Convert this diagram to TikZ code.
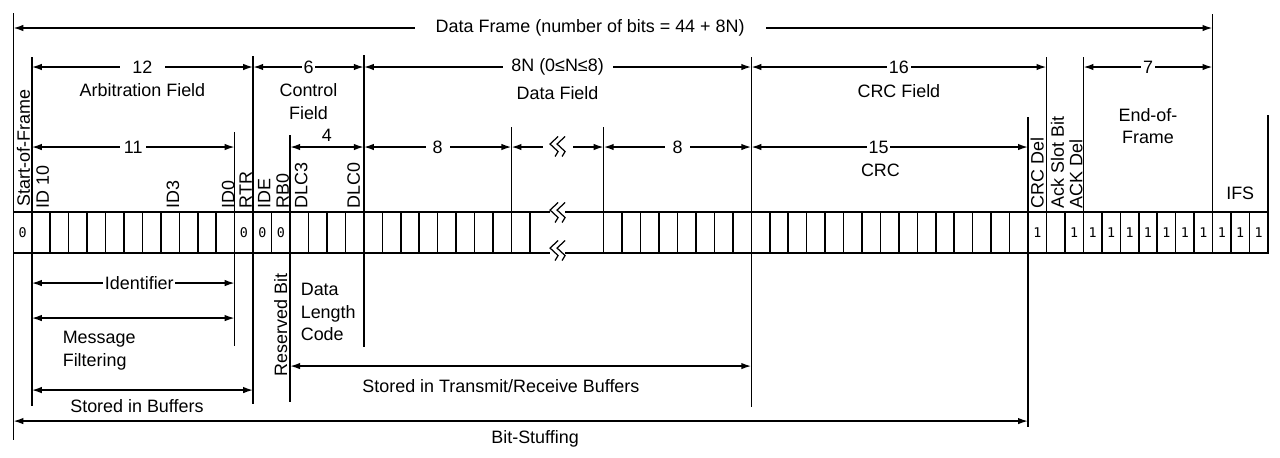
\documentclass[tikz,border=0pt]{standalone}
\usepackage{fontspec}
\setmainfont{Liberation Sans}
\newfontfamily\bitfont{DejaVu Sans Mono}
\usepackage{tikz}
\usetikzlibrary{calc,shapes,positioning}
\usetikzlibrary{arrows}
\usetikzlibrary{arrows.meta}
\tikzset{>={Latex[width=1.3mm,length=2mm]}}

% break mark drawn over a white node
\newcommand{\brkmark}[1]{%
  \foreach \s in {-0.07cm,0.07cm}
    \draw[line width=0.7pt] ([xshift=\s]#1.center) ++(0.08cm,0.21cm) -- ++(-0.16cm,-0.15cm) -- ++(0.16cm,-0.15cm) -- ++(-0.06cm,-0.1cm);}

\begin{document}
\begin{tikzpicture}[x=0.369cm, y=-0.02cm, line width=0.9pt]
          \tikzstyle{lbl} = [fill=white, inner xsep=2pt, inner ysep=0pt, font=\fontsize{10.2}{12}\selectfont]
          \tikzstyle{txt} = [align=center, inner sep=0pt, font=\fontsize{10.2}{13}\selectfont]
          \tikzstyle{vtxt} = [rotate=90, anchor=west, inner sep=0pt, font=\fontsize{10.2}{12}\selectfont]
          \tikzstyle{bit} = [inner sep=0pt, font=\bitfont\fontsize{7.6}{8}\selectfont]
          \tikzstyle{brk} = [fill=white, inner sep=0pt, minimum height=0.42cm, minimum width=0.3cm]

          \useasboundingbox (-0.721,0) rectangle (68.656,457);

          % field boundaries and arrow levels
          \foreach \i in {0,1,12,13,15,19,27,32,40,55,56,58,65,68}
            \coordinate (b\i) at (\i,0);
          \coordinate (lv1) at (0,28);
          \coordinate (lv2) at (0,67);
          \coordinate (lv3) at (0,147);
          \coordinate (lvid) at (0,283);
          \coordinate (lvmf) at (0,318);
          \coordinate (lvtr) at (0,366);
          \coordinate (lvsb) at (0,390);
          \coordinate (lvbs) at (0,421);

          \foreach \i/\ya/\yb in {0/13/440, 1/57/406, 12/132/346, 13/56/404, 15/135/402, 19/55/347,
                                 27/127/212, 32/127/212, 40/57/407, 55/117/427, 56/57/212,
                                 58/57/212, 65/14/212, 68/115/212}
            \draw (\i,\ya) -- (\i,\yb);

          % bit row
          \draw (0,212) rectangle (68,253);
          \foreach \i in {1,...,28}
            \draw (\i,212) -- (\i,253);
          \foreach \i in {32,...,67}
            \draw (\i,212) -- (\i,253);

          \foreach \i in {0,12,13,14}
            \node[bit] (z\i) at (\i+0.5,232.5) {0};
          \foreach \i in {55,57,58,...,67}
            \node[bit] (o\i) at (\i+0.5,232.5) {1};

          % dimension arrows above
          \draw[<->] (b0 |- lv1) -- node[lbl, pos=.481, inner xsep=12pt] {Data Frame (number of bits = 44 + 8N)} (b65 |- lv1);
          \draw[<->] (b1 |- lv2) -- node[lbl, inner xsep=7pt] {12} (b13 |- lv2);
          \draw[<->] (b13 |- lv2) -- node[lbl, inner xsep=1pt] {6} (b19 |- lv2);
          \draw[<->] (b19 |- lv2) -- node[lbl, inner xsep=5pt] {8N (0≤N≤8)} (b40 |- lv2);
          \draw[<->] (b40 |- lv2) -- node[lbl, inner xsep=1pt] {16} (b56 |- lv2);
          \draw[<->] (b58 |- lv2) -- node[lbl, inner xsep=1pt] {7} (b65 |- lv2);

          \draw[<->] (b1 |- lv3) -- node[lbl] {11} (b12 |- lv3);
          \draw[<->] (b15 |- lv3) -- node[above=2.6pt, inner sep=0pt, font=\fontsize{10.2}{12}\selectfont] {4} (b19 |- lv3);
          \draw[<->] (b19 |- lv3) -- node[lbl, inner xsep=4pt] {8} (b27 |- lv3);
          \draw[<->] (b27 |- lv3) -- (b32 |- lv3);
          \draw[<->] (b32 |- lv3) -- node[lbl, inner xsep=4pt] {8} (b40 |- lv3);
          \draw[<->] (b40 |- lv3) -- node[lbl, pos=.46, inner xsep=1pt] {15} (b55 |- lv3);

          % field names
          \node[txt] (arb) at (7,90) {Arbitration Field};
          \node[txt] (ctl) at (16,101.5) {Control\\Field};
          \node[txt] (dat) at (29.5,93) {Data Field};
          \node[txt] (crcf) at (48,91) {CRC Field};
          \node[txt] (crc) at (47,170) {CRC};
          \node[txt] (eof) at (61.5,126) {End-of-\\Frame};
          \node[txt] (ifs) at (66.5,193) {IFS};

          \node[vtxt] (sof) at (0.55,207) {Start-of-Frame};
          \node[vtxt] (id10) at (1.6,209) {ID 10};
          \node[vtxt] (id3) at (8.65,209) {ID3};
          \node[vtxt] (id0) at (11.65,209) {ID0};
          \node[vtxt] (rtr) at (12.6,209) {RTR};
          \node[vtxt] (ide) at (13.6,209) {IDE};
          \node[vtxt] (rb0) at (14.6,209) {RB0};
          \node[vtxt] (dlc3) at (15.6,209) {DLC3};
          \node[vtxt] (dlc0) at (18.45,209) {DLC0};
          \node[vtxt] (crcdel) at (55.5,209) {CRC Del};
          \node[vtxt] (ackslot) at (56.6,209) {Ack Slot Bit};
          \node[vtxt] (ackdel) at (57.6,209) {ACK Del};

          % break marks
          \node[brk, minimum width=0.6cm] (brkA) at (29.5,147) {};
          \node[brk] (brkB) at (29.5,213) {};
          \node[brk] (brkC) at (29.5,251) {};
          \brkmark{brkA}
          \brkmark{brkB}
          \brkmark{brkC}

          % dimension arrows below
          \draw[<->] (b1 |- lvid) -- node[lbl, pos=.53, inner xsep=1pt] {Identifier} (b12 |- lvid);
          \draw[<->] (b1 |- lvmf) -- (b12 |- lvmf);
          \draw[<->] (b1 |- lvsb) -- (b13 |- lvsb);
          \draw[<->] (b15 |- lvtr) -- (b40 |- lvtr);
          \draw[<->] (b0 |- lvbs) -- (b55 |- lvbs);

          \node[txt, align=left, anchor=west] (msg) at (2.64,350.5) {Message\\Filtering};
          \node[txt] (sib) at (6.7,406) {Stored in Buffers};
          \node[vtxt, anchor=east] (rsv) at (14.5,273) {Reserved Bit};
          \node[txt, align=left, anchor=west] (dlc) at (15.54,312) {Data\\Length\\Code};
          \node[txt] (strx) at (26.43,386) {Stored in Transmit/Receive Buffers};
          \node[txt] (bst) at (28.28,439) {Bit-Stuffing};
        \end{tikzpicture}
\end{document}
